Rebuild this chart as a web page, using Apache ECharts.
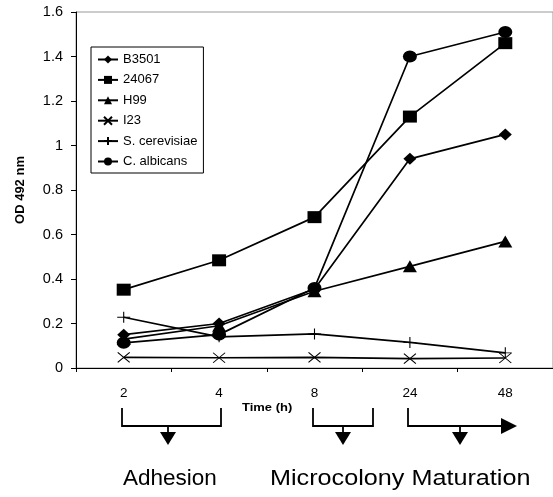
<!DOCTYPE html>
<html><head><meta charset="utf-8">
<script src="https://cdn.jsdelivr.net/npm/echarts@6/dist/echarts.min.js"></script>
<style>html,body{margin:0;padding:0;background:#fff}#c{width:553px;height:497px}</style>
</head><body><div id="c"></div>
<script>
const categories = ['2', '4', '8', '24', '48'];
const seriesNames = ['B3501', '24067', 'H99', 'I23', 'S. cerevisiae', 'C. albicans'];
const b3501 = [0.15, 0.20, 0.355, 0.94, 1.05];
const s24067 = [0.352, 0.484, 0.678, 1.13, 1.46];
const h99 = [0.13, 0.19, 0.345, 0.457, 0.569];
const i23 = [0.048, 0.046, 0.048, 0.042, 0.045];
const scerevisiae = [0.228, 0.14, 0.153, 0.115, 0.068];
const calbicans = [0.113, 0.15, 0.36, 1.40, 1.51];
const yTicks = { min: 0, max: 1.6, interval: 0.2 };

const FONT = '"Liberation Sans", Arial, sans-serif';
const X_PATH = 'path://M0,0L10,10M10,0L0,10';
const PLUS_PATH = 'path://M5,0L5,10M0,5L10,5';

function mk(name, data, symbol, size, stroke) {
  return {
    name, type: 'line', data,
    symbol, symbolSize: size,
    lineStyle: { color: '#000', width: 1.7 },
    itemStyle: stroke ? { color: 'rgba(0,0,0,0)', borderColor: '#000', borderWidth: 1 } : { color: '#000' },
    emphasis: { disabled: true },
    animation: false, z: 3
  };
}

const chart = echarts.init(document.getElementById('c'), null, { renderer: 'canvas' });
chart.setOption({
  animation: false,
  grid: { left: 76, top: 12, width: 478, height: 356, show: true, borderColor: '#999', borderWidth: 1 },
  legend: {
    orient: 'vertical', left: 91, top: 47,
    backgroundColor: '#fff', borderColor: '#000', borderWidth: 1,
    padding: [6, 6, 5, 6], itemWidth: 20, itemHeight: 10, itemGap: 7.4,
    textStyle: { fontFamily: FONT, fontSize: 13, color: '#000' },
    data: seriesNames
  },
  xAxis: {
    type: 'category', data: categories, boundaryGap: true,
    axisLine: { lineStyle: { color: '#000', width: 1 } },
    axisTick: { show: true, length: 4, lineStyle: { color: '#000' } },
    axisLabel: { fontFamily: FONT, fontSize: 13.5, color: '#000', margin: 18 },
    splitLine: { show: false }
  },
  yAxis: {
    type: 'value', min: yTicks.min, max: yTicks.max, interval: yTicks.interval,
    name: 'OD 492 nm', nameLocation: 'middle', nameGap: 49, nameRotate: 90,
    nameTextStyle: { fontFamily: FONT, fontSize: 13, fontWeight: 'bold', color: '#000' },
    axisLine: { show: true, lineStyle: { color: '#000', width: 1 } },
    axisTick: { show: true, length: 5, lineStyle: { color: '#000' } },
    axisLabel: { fontFamily: FONT, fontSize: 14.5, color: '#000', margin: 13 },
    splitLine: { show: false }
  },
  series: [
    mk(seriesNames[0], b3501, 'diamond', [13, 12]),
    mk(seriesNames[1], s24067, 'rect', [14, 12]),
    mk(seriesNames[2], h99, 'triangle', [14, 12]),
    mk(seriesNames[3], i23, X_PATH, [12, 10], true),
    mk(seriesNames[4], scerevisiae, PLUS_PATH, [13, 11], true),
    mk(seriesNames[5], calbicans, 'circle', [14, 12])
  ],
  graphic: [
    { type: 'text', x: 242, y: 402, scaleX: 1.18, style: { text: 'Time (h)', font: 'bold 11px ' + FONT, fill: '#000' } },
    // Adhesion bracket
    { type: 'polyline', shape: { points: [[122, 408], [122, 426], [221, 426], [221, 408]] }, style: { stroke: '#000', lineWidth: 1.8, fill: null } },
    { type: 'line', shape: { x1: 168, y1: 426, x2: 168, y2: 433 }, style: { stroke: '#000', lineWidth: 1.8 } },
    { type: 'polygon', shape: { points: [[160, 432], [176, 432], [168, 445]] }, style: { fill: '#000' } },
    // Microcolony bracket
    { type: 'polyline', shape: { points: [[313, 408], [313, 426], [373, 426], [373, 408]] }, style: { stroke: '#000', lineWidth: 1.8, fill: null } },
    { type: 'line', shape: { x1: 343, y1: 426, x2: 343, y2: 433 }, style: { stroke: '#000', lineWidth: 1.8 } },
    { type: 'polygon', shape: { points: [[335, 432], [351, 432], [343, 445]] }, style: { fill: '#000' } },
    // Maturation bracket with arrow
    { type: 'polyline', shape: { points: [[408, 408], [408, 426], [503, 426]] }, style: { stroke: '#000', lineWidth: 1.8, fill: null } },
    { type: 'polygon', shape: { points: [[501, 418], [517, 426], [501, 434]] }, style: { fill: '#000' } },
    { type: 'line', shape: { x1: 460, y1: 426, x2: 460, y2: 433 }, style: { stroke: '#000', lineWidth: 1.8 } },
    { type: 'polygon', shape: { points: [[452, 432], [468, 432], [460, 445]] }, style: { fill: '#000' } },
    { type: 'text', x: 123, y: 467, style: { text: 'Adhesion', font: '22.5px ' + FONT, fill: '#000' } },
    { type: 'text', x: 270, y: 467, scaleX: 1.12, style: { text: 'Microcolony Maturation', font: '22.5px ' + FONT, fill: '#000' } }
  ]
});
</script></body></html>
